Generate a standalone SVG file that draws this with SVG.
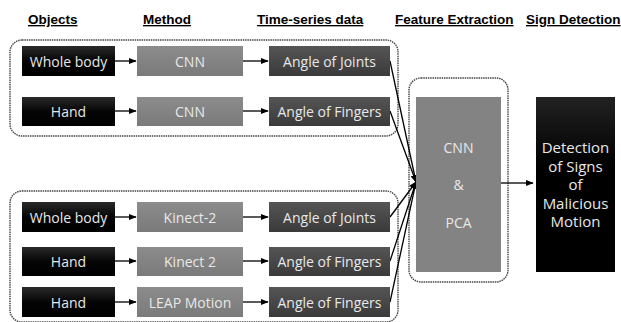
<svg xmlns="http://www.w3.org/2000/svg" width="621" height="322" viewBox="0 0 621 322">
<style>
.hdr{font-family:"Liberation Sans",Arial,sans-serif;font-size:13.5px;font-weight:bold;text-decoration:underline;fill:#000}
.t{font-family:"Open Sans","Liberation Sans",sans-serif;font-size:14px;fill:#e8e8e8;text-anchor:middle;dominant-baseline:central}
.tb{font-size:15px}
.grp{fill:none;stroke:#444;stroke-width:1.4;stroke-dasharray:1.5 0.8}
.obj{fill:url(#gBlack)}
.met{fill:url(#gGray)}
.ts{fill:url(#gDark)}
.c{stroke:#000;stroke-width:1.3;fill:none}
</style>
<defs>
<linearGradient id="gBlack" x1="0" y1="0" x2="0" y2="1"><stop offset="0" stop-color="#2a2a2a"/><stop offset="0.5" stop-color="#050505"/><stop offset="1" stop-color="#000"/></linearGradient>
<linearGradient id="gGray" x1="0" y1="0" x2="0" y2="1"><stop offset="0" stop-color="#8c8c8c"/><stop offset="1" stop-color="#7a7a7a"/></linearGradient>
<linearGradient id="gDark" x1="0" y1="0" x2="0" y2="1"><stop offset="0" stop-color="#555"/><stop offset="1" stop-color="#3a3a3a"/></linearGradient>
<linearGradient id="gDet" x1="0" y1="0" x2="0" y2="1"><stop offset="0" stop-color="#222"/><stop offset="0.4" stop-color="#000"/><stop offset="1" stop-color="#000"/></linearGradient>
<marker id="ah" viewBox="0 0 10 10" refX="9" refY="5" markerWidth="6" markerHeight="6" orient="auto"><path d="M0,1 L10,5 L0,9 z" fill="#000"/></marker>
</defs>
<rect width="621" height="322" fill="#fff"/>

<g id="headers">
<text class="hdr" x="28" y="24">Objects</text>
<text class="hdr" x="143" y="24">Method</text>
<text class="hdr" x="257" y="24">Time-series data</text>
<text class="hdr" x="395" y="24">Feature Extraction</text>
<text class="hdr" x="526" y="24">Sign Detection</text>
</g>

<g id="group-top"><rect class="grp" x="10" y="40" width="388" height="96" rx="12"/></g>
<g id="group-bottom"><rect class="grp" x="10" y="191" width="388" height="131" rx="12"/></g>
<g id="group-fe"><rect class="grp" x="409" y="78" width="99" height="204" rx="12"/></g>

<g id="connectors">
<line class="c" x1="115" y1="61" x2="136" y2="61" marker-end="url(#ah)"/>
<line class="c" x1="243" y1="61" x2="268" y2="61" marker-end="url(#ah)"/>
<line class="c" x1="115" y1="111" x2="136" y2="111" marker-end="url(#ah)"/>
<line class="c" x1="243" y1="111" x2="268" y2="111" marker-end="url(#ah)"/>
<line class="c" x1="115" y1="217" x2="136" y2="217" marker-end="url(#ah)"/>
<line class="c" x1="243" y1="217" x2="268" y2="217" marker-end="url(#ah)"/>
<line class="c" x1="115" y1="261" x2="136" y2="261" marker-end="url(#ah)"/>
<line class="c" x1="243" y1="261" x2="268" y2="261" marker-end="url(#ah)"/>
<line class="c" x1="115" y1="302" x2="136" y2="302" marker-end="url(#ah)"/>
<line class="c" x1="243" y1="302" x2="268" y2="302" marker-end="url(#ah)"/>
<line class="c" x1="390" y1="61" x2="416" y2="182" marker-end="url(#ah)"/>
<line class="c" x1="390" y1="111" x2="416" y2="182" marker-end="url(#ah)"/>
<line class="c" x1="390" y1="217" x2="416" y2="182" marker-end="url(#ah)"/>
<line class="c" x1="390" y1="261" x2="416" y2="182" marker-end="url(#ah)"/>
<line class="c" x1="390" y1="302" x2="416" y2="182" marker-end="url(#ah)"/>
<line class="c" x1="501" y1="183" x2="533" y2="183" marker-end="url(#ah)"/>
</g>

<g id="n-obj1"><rect class="obj" x="22" y="46" width="93" height="30"/><text class="t" x="68.5" y="61">Whole body</text></g>
<g id="n-met1"><rect class="met" x="137" y="46" width="106" height="30"/><text class="t" x="190" y="61">CNN</text></g>
<g id="n-ts1"><rect class="ts" x="269" y="46" width="121" height="30"/><text class="t" x="329.5" y="61">Angle of Joints</text></g>

<g id="n-obj2"><rect class="obj" x="22" y="97" width="93" height="29"/><text class="t" x="68.5" y="111">Hand</text></g>
<g id="n-met2"><rect class="met" x="137" y="97" width="106" height="29"/><text class="t" x="190" y="111">CNN</text></g>
<g id="n-ts2"><rect class="ts" x="269" y="97" width="121" height="29"/><text class="t" x="329.5" y="111">Angle of Fingers</text></g>

<g id="n-obj3"><rect class="obj" x="22" y="202" width="93" height="30"/><text class="t" x="68.5" y="217">Whole body</text></g>
<g id="n-met3"><rect class="met" x="137" y="202" width="106" height="30"/><text class="t" x="190" y="217">Kinect-2</text></g>
<g id="n-ts3"><rect class="ts" x="269" y="202" width="121" height="30"/><text class="t" x="329.5" y="217">Angle of Joints</text></g>

<g id="n-obj4"><rect class="obj" x="22" y="247" width="93" height="29"/><text class="t" x="68.5" y="261">Hand</text></g>
<g id="n-met4"><rect class="met" x="137" y="247" width="106" height="29"/><text class="t" x="190" y="261">Kinect 2</text></g>
<g id="n-ts4"><rect class="ts" x="269" y="247" width="121" height="29"/><text class="t" x="329.5" y="261">Angle of Fingers</text></g>

<g id="n-obj5"><rect class="obj" x="22" y="287" width="93" height="30"/><text class="t" x="68.5" y="302">Hand</text></g>
<g id="n-met5"><rect class="met" x="137" y="287" width="106" height="30"/><text class="t" x="190" y="302">LEAP Motion</text></g>
<g id="n-ts5"><rect class="ts" x="269" y="287" width="121" height="30"/><text class="t" x="329.5" y="302">Angle of Fingers</text></g>

<g id="n-fe"><rect x="416" y="97" width="85" height="175" fill="#838383"/>
<text class="t" x="458.5" y="147">CNN</text>
<text class="t" x="458.5" y="184">&amp;</text>
<text class="t" x="458.5" y="222">PCA</text></g>

<g id="n-det"><rect x="536" y="97" width="79" height="175" fill="url(#gDet)"/>
<text class="t tb" x="575.5" y="147">Detection</text>
<text class="t tb" x="575.5" y="165.5">of Signs</text>
<text class="t tb" x="575.5" y="184">of</text>
<text class="t tb" x="575.5" y="202.5">Malicious</text>
<text class="t tb" x="575.5" y="221">Motion</text></g>
</svg>
